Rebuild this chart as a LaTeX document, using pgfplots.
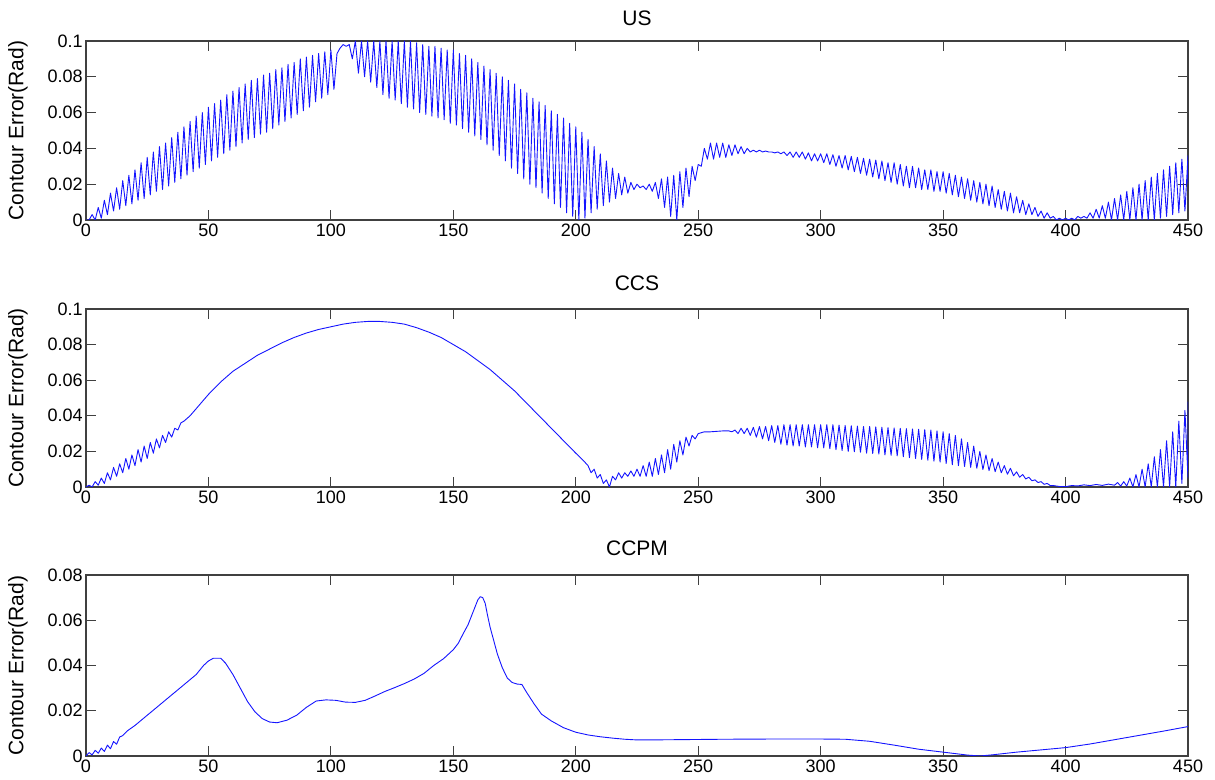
\documentclass[border=0pt]{standalone}
\usepackage{fontspec}
\setmainfont{Liberation Sans}
\usepackage{pgfplots}
\pgfplotsset{compat=1.18}
\pgfplotsset{
  cerr/.style={
    scale only axis, width=551pt,
    xmin=0, xmax=450, ymin=0,
    xtick={0,50,100,150,200,250,300,350,400,450},
    xticklabels={0,50,100,150,200,250,300,350,400,450},
    tick pos=both, tick align=inside, major tick length=5pt,
    scaled y ticks=false,
    axis line style={black!75, line width=0.6pt},
    every tick/.style={black!75, line width=0.6pt},
    tick label style={font=\fontsize{9}{10}\selectfont},
    title style={font=\fontsize{10.5}{12}\selectfont, at={(0.5,1)}, anchor=base, inner sep=0pt},
    ylabel={Contour Error(Rad)},
    every axis y label/.style={at={(axis description cs:0,0.5)}, rotate=90, anchor=center, yshift=34pt, font=\fontsize{10.5}{12}\selectfont},
    yticklabel style={inner sep=1.5pt},
    xticklabel style={inner sep=2pt},
    /pgf/number format/assume math mode=true,
  },
  cline/.style={color={rgb,255:red,20;green,20;blue,255}, line width=0.45pt, mark=none, line join=round}
}
\begin{document}
\begin{tikzpicture}
\path[use as bounding box] (0,0) rectangle (607.5pt,390pt);
% ---------------- US ----------------
\begin{axis}[cerr, at={(43pt,280pt)}, height=89.5pt, ymax=0.1,
  title=US, title style={yshift=1.75pt},
  ytick={0,0.02,0.04,0.06,0.08,0.1}, yticklabels={0,0.02,0.04,0.06,0.08,0.1}]
\addplot[cline] coordinates {
(0,0) (1.25,0.000) (2.5,0.003) (3.75,0.000) (5,0.007) (6.25,0.001) (7.5,0.011) (8.75,0.003)
(10,0.015) (11.25,0.005) (12.5,0.018) (13.75,0.006) (15,0.022) (16.25,0.008) (17.5,0.025) (18.75,0.009)
(20,0.028) (21.25,0.011) (22.5,0.032) (23.75,0.012) (25,0.035) (26.25,0.014) (27.5,0.038) (28.75,0.016)
(30,0.041) (31.25,0.017) (32.5,0.043) (33.75,0.019) (35,0.046) (36.25,0.021) (37.5,0.049) (38.75,0.023)
(40,0.052) (41.25,0.025) (42.5,0.055) (43.75,0.027) (45,0.058) (46.25,0.029) (47.5,0.060) (48.75,0.031)
(50,0.063) (51.25,0.033) (52.5,0.065) (53.75,0.035) (55,0.067) (56.25,0.037) (57.5,0.070) (58.75,0.039)
(60,0.072) (61.25,0.041) (62.5,0.074) (63.75,0.043) (65,0.076) (66.25,0.045) (67.5,0.078) (68.75,0.046)
(70,0.079) (71.25,0.048) (72.5,0.081) (73.75,0.049) (75,0.082) (76.25,0.051) (77.5,0.084) (78.75,0.053)
(80,0.085) (81.25,0.055) (82.5,0.087) (83.75,0.057) (85,0.088) (86.25,0.059) (87.5,0.090) (88.75,0.061)
(90,0.091) (91.25,0.063) (92.5,0.092) (93.75,0.066) (95,0.093) (96.25,0.068) (97.5,0.094) (98.75,0.070)
(100,0.095) (101.25,0.073) (102.5,0.093) (103.75,0.096) (105,0.098) (106.25,0.097) (107.5,0.098) (108.75,0.090)
(110,0.100) (111.25,0.082) (112.5,0.100) (113.75,0.080) (115,0.100) (116.25,0.077) (117.5,0.100) (118.75,0.074)
(120,0.100) (121.25,0.070) (122.5,0.100) (123.75,0.068) (125,0.100) (126.25,0.067) (127.5,0.100) (128.75,0.065)
(130,0.100) (131.25,0.063) (132.5,0.100) (133.75,0.062) (135,0.099) (136.25,0.060) (137.5,0.098) (138.75,0.059)
(140,0.097) (141.25,0.058) (142.5,0.097) (143.75,0.057) (145,0.096) (146.25,0.056) (147.5,0.095) (148.75,0.054)
(150,0.095) (151.25,0.053) (152.5,0.093) (153.75,0.051) (155,0.092) (156.25,0.049) (157.5,0.090) (158.75,0.047)
(160,0.088) (161.25,0.045) (162.5,0.086) (163.75,0.042) (165,0.084) (166.25,0.039) (167.5,0.082) (168.75,0.036)
(170,0.080) (171.25,0.033) (172.5,0.078) (173.75,0.029) (175,0.076) (176.25,0.026) (177.5,0.073) (178.75,0.023)
(180,0.071) (181.25,0.020) (182.5,0.068) (183.75,0.018) (185,0.066) (186.25,0.015) (187.5,0.064) (188.75,0.012)
(190,0.061) (191.25,0.009) (192.5,0.059) (193.75,0.007) (195,0.057) (196.25,0.004) (197.5,0.054) (198.75,0.002)
(200,0.052) (201.25,0.000) (202.5,0.049) (203.75,0.001) (205,0.045) (206.25,0.004) (207.5,0.041) (208.75,0.006)
(210,0.037) (211.25,0.008) (212.5,0.033) (213.75,0.010) (215,0.029) (216.25,0.012) (217.5,0.026) (218.75,0.014)
(220,0.024) (221.25,0.015) (222.5,0.021) (223.75,0.017) (225,0.020) (226.25,0.018) (227.5,0.019) (228.75,0.017)
(230,0.020) (231.25,0.016) (232.5,0.021) (233.75,0.012) (235,0.023) (236.25,0.007) (237.5,0.024) (238.75,0.002)
(240,0.025) (241.25,0.000) (242.5,0.027) (243.75,0.007) (245,0.029) (246.25,0.013) (247.5,0.030) (248.75,0.022)
(250,0.031) (251.25,0.030) (252.5,0.040) (253.75,0.034) (255,0.043) (256.25,0.034) (257.5,0.043) (258.75,0.035)
(260,0.043) (261.25,0.035) (262.5,0.042) (263.75,0.036) (265,0.042) (266.25,0.037) (267.5,0.041) (268.75,0.037)
(270,0.040) (271.25,0.038) (272.5,0.039) (273.75,0.038) (275,0.039) (276.25,0.038) (277.5,0.0385) (278.75,0.038)
(280,0.038) (281.25,0.0375) (282.5,0.038) (283.75,0.037) (285,0.038) (286.25,0.036) (287.5,0.038) (288.75,0.035)
(290,0.038) (291.25,0.035) (292.5,0.038) (293.75,0.034) (295,0.0375) (296.25,0.033) (297.5,0.037) (298.75,0.033)
(300,0.037) (301.25,0.032) (302.5,0.037) (303.75,0.031) (305,0.0365) (306.25,0.030) (307.5,0.036) (308.75,0.029)
(310,0.036) (311.25,0.028) (312.5,0.0355) (313.75,0.027) (315,0.035) (316.25,0.026) (317.5,0.0345) (318.75,0.025)
(320,0.034) (321.25,0.024) (322.5,0.0335) (323.75,0.023) (325,0.033) (326.25,0.022) (327.5,0.032) (328.75,0.021)
(330,0.032) (331.25,0.020) (332.5,0.031) (333.75,0.019) (335,0.030) (336.25,0.018) (337.5,0.030) (338.75,0.018)
(340,0.029) (341.25,0.017) (342.5,0.028) (343.75,0.017) (345,0.028) (346.25,0.016) (347.5,0.027) (348.75,0.016)
(350,0.027) (351.25,0.015) (352.5,0.026) (353.75,0.014) (355,0.025) (356.25,0.013) (357.5,0.024) (358.75,0.012)
(360,0.023) (361.25,0.011) (362.5,0.022) (363.75,0.010) (365,0.021) (366.25,0.009) (367.5,0.020) (368.75,0.008)
(370,0.019) (371.25,0.007) (372.5,0.017) (373.75,0.006) (375,0.016) (376.25,0.005) (377.5,0.015) (378.75,0.004)
(380,0.013) (381.25,0.004) (382.5,0.011) (383.75,0.003) (385,0.009) (386.25,0.003) (387.5,0.007) (388.75,0.002)
(390,0.005) (391.25,0.001) (392.5,0.004) (393.75,0.001) (395,0.002) (396.25,0.000) (397.5,0.001) (398.75,0.000)
(400,0.001) (401.25,0.000) (402.5,0.001) (403.75,0.000) (405,0.002) (406.25,0.001) (407.5,0.002) (408.75,0.001)
(410,0.004) (411.25,0.001) (412.5,0.006) (413.75,0.001) (415,0.008) (416.25,0.001) (417.5,0.010) (418.75,0.000)
(420,0.012) (421.25,0.000) (422.5,0.014) (423.75,0.000) (425,0.016) (426.25,0.000) (427.5,0.018) (428.75,0.000)
(430,0.020) (431.25,0.000) (432.5,0.022) (433.75,0.000) (435,0.024) (436.25,0.000) (437.5,0.026) (438.75,0.001)
(440,0.028) (441.25,0.002) (442.5,0.030) (443.75,0.003) (445,0.032) (446.25,0.004) (447.5,0.034) (448.75,0.005)
(450,0.036) (450,0.020)
};
\end{axis}
% ---------------- CCS ----------------
\begin{axis}[cerr, at={(43pt,146.5pt)}, height=89pt, ymax=0.1,
  title=CCS, title style={yshift=3.25pt},
  ytick={0,0.02,0.04,0.06,0.08,0.1}, yticklabels={0,0.02,0.04,0.06,0.08,0.1}]
\addplot[cline] coordinates {
(0,0) (1.25,0.001) (2.5,0.000) (3.75,0.003) (5,0.001) (6.25,0.005) (7.5,0.002) (8.75,0.008)
(10,0.004) (11.25,0.011) (12.5,0.006) (13.75,0.013) (15,0.008) (16.25,0.016) (17.5,0.010) (18.75,0.018)
(20,0.012) (21.25,0.021) (22.5,0.014) (23.75,0.023) (25,0.016) (26.25,0.025) (27.5,0.019) (28.75,0.027)
(30,0.022) (31.25,0.029) (32.5,0.025) (33.75,0.031) (35,0.028) (36.25,0.033) (37.5,0.032) (38.75,0.036)
(40,0.037) (42.5,0.040) (45,0.044) (47.5,0.048) (50,0.052) (55,0.059) (60,0.065) (65,0.0695)
(70,0.074) (75,0.0775) (80,0.081) (85,0.084) (90,0.0865) (95,0.0885) (100,0.090) (105,0.0915)
(110,0.0925) (115,0.093) (120,0.093) (125,0.0925) (130,0.0915) (135,0.0895) (140,0.087) (145,0.084)
(150,0.080) (155,0.076) (160,0.071) (165,0.066) (170,0.060) (175,0.054) (180,0.047) (185,0.040)
(190,0.033) (195,0.026) (200,0.019) (203,0.015) (205,0.012) (206.25,0.008) (207.5,0.010) (208.75,0.005)
(210,0.007) (211.25,0.002) (212.5,0.004) (213.75,0.000) (215,0.006) (216.25,0.004) (217.5,0.008) (218.75,0.005)
(220,0.008) (221.25,0.006) (222.5,0.009) (223.75,0.006) (225,0.010) (226.25,0.006) (227.5,0.012) (228.75,0.006)
(230,0.014) (231.25,0.006) (232.5,0.016) (233.75,0.007) (235,0.018) (236.25,0.008) (237.5,0.021) (238.75,0.010)
(240,0.024) (241.25,0.014) (242.5,0.026) (243.75,0.018) (245,0.028) (246.25,0.023) (247.5,0.029) (248.75,0.027)
(250,0.030) (252.5,0.031) (255,0.031) (260,0.0315) (262.5,0.0315) (263.75,0.031) (265,0.032) (266.25,0.030)
(267.5,0.033) (268.75,0.030) (270,0.033) (271.25,0.029) (272.5,0.0335) (273.75,0.028) (275,0.034) (276.25,0.027)
(277.5,0.034) (278.75,0.026) (280,0.0345) (281.25,0.025) (282.5,0.0345) (283.75,0.024)
(285,0.035) (286.25,0.0235) (287.5,0.035) (288.75,0.023) (290,0.035) (291.25,0.023) (292.5,0.035) (293.75,0.0225)
(295,0.035) (296.25,0.0225) (297.5,0.035) (298.75,0.022) (300,0.035) (301.25,0.022) (302.5,0.035) (303.75,0.0215)
(305,0.035) (306.25,0.021) (307.5,0.0348) (308.75,0.0205) (310,0.0346) (311.25,0.020) (312.5,0.0344) (313.75,0.0198)
(315,0.0342) (316.25,0.0195) (317.5,0.034) (318.75,0.019) (320,0.034) (321.25,0.0188) (322.5,0.0338) (323.75,0.0185)
(325,0.0336) (326.25,0.018) (327.5,0.0334) (328.75,0.0178) (330,0.0332) (331.25,0.0175) (332.5,0.033) (333.75,0.017)
(335,0.0328) (336.25,0.0165) (337.5,0.0326) (338.75,0.016) (340,0.0324) (341.25,0.0155) (342.5,0.0322) (343.75,0.015)
(345,0.032) (346.25,0.0145) (347.5,0.0315) (348.75,0.014) (350,0.031) (351.25,0.0132) (352.5,0.030) (353.75,0.0125)
(355,0.029) (356.25,0.012) (357.5,0.027) (358.75,0.0115) (360,0.025) (361.25,0.011) (362.5,0.023) (363.75,0.0105)
(365,0.020) (366.25,0.0098) (367.5,0.018) (368.75,0.0092) (370,0.016) (371.25,0.0086) (372.5,0.014) (373.75,0.008)
(375,0.012) (376.25,0.0072) (377.5,0.0105) (378.75,0.0063) (380,0.0085) (381.25,0.0055) (382.5,0.007) (383.75,0.0045)
(385,0.0055) (386.25,0.0035) (387.5,0.004) (388.75,0.0025) (390,0.003) (391.25,0.0015) (392.5,0.002) (393.75,0.0008)
(395,0.0008) (397.5,0.0003) (400,0.0002) (402.5,0.0008) (405,0.0006) (407.5,0.0012) (410,0.0008) (412.5,0.0014)
(415,0.0009) (417.5,0.0016) (420,0.001) (421.25,0.0025) (422.5,0.0005) (423.75,0.003) (425,0.0005) (426.25,0.005)
(427.5,0) (428.75,0.007) (430,0) (431.25,0.010) (432.5,0) (433.75,0.013) (435,0) (436.25,0.017)
(437.5,0) (438.75,0.021) (440,0) (441.25,0.026) (442.5,0) (443.75,0.031) (445,0) (446.25,0.037)
(447.5,0.002) (448.75,0.043) (450,0.005) (450,0.048)
};
\end{axis}
% ---------------- CCPM ----------------
\begin{axis}[cerr, at={(43pt,12pt)}, height=90.5pt, ymax=0.08,
  title=CCPM, title style={yshift=3.75pt},
  ytick={0,0.02,0.04,0.06,0.08}, yticklabels={0,0.02,0.04,0.06,0.08}]
\addplot[cline] coordinates {
(0,0) (1.25,0.0015) (2.5,0.0005) (3.75,0.0025) (5,0.0012) (6.25,0.0035) (7.5,0.002) (8.75,0.0048)
(10,0.0032) (11.25,0.0064) (12.5,0.0052) (13.75,0.0084) (15,0.0090) (17,0.0112) (20,0.0135) (25,0.018)
(30,0.0225) (35,0.027) (40,0.0315) (45,0.036) (48,0.040) (50,0.042) (52,0.0432) (55,0.0432)
(57,0.041) (60,0.036) (63,0.030) (66,0.024) (69,0.0195) (72,0.0165) (75,0.015) (78,0.0147)
(82,0.0158) (86,0.018) (90,0.0215) (94,0.0243) (98,0.0248) (102,0.0246) (106,0.0238) (110,0.0237)
(114,0.0246) (118,0.0265) (122,0.0285) (126,0.0302) (130,0.032) (134,0.034) (138,0.0365) (142,0.040)
(146,0.043) (150,0.047) (152,0.0498) (154,0.054) (156,0.058) (158,0.0635) (160,0.069) (161,0.0704)
(162,0.070) (163,0.0675) (164,0.062) (165,0.057) (166.5,0.051) (168,0.045) (170,0.039) (172,0.0345)
(174,0.0325) (176,0.0318) (178,0.0316) (180,0.028) (183,0.023) (186,0.0185) (190,0.0155) (195,0.0125)
(200,0.0105) (205,0.0093) (210,0.0085) (215,0.0079) (220,0.0074) (225,0.0071) (230,0.0071) (240,0.0072)
(250,0.0073) (260,0.0074) (280,0.0075) (300,0.0075) (310,0.0074) (320,0.0065) (330,0.0048) (340,0.003)
(350,0.0017) (360,0.0004) (365,0.0000) (370,0.0005) (380,0.0017) (390,0.0027) (400,0.0037) (410,0.0053)
(420,0.0072) (430,0.0091) (440,0.011) (450,0.013)
};
\end{axis}
\end{tikzpicture}
\end{document}
